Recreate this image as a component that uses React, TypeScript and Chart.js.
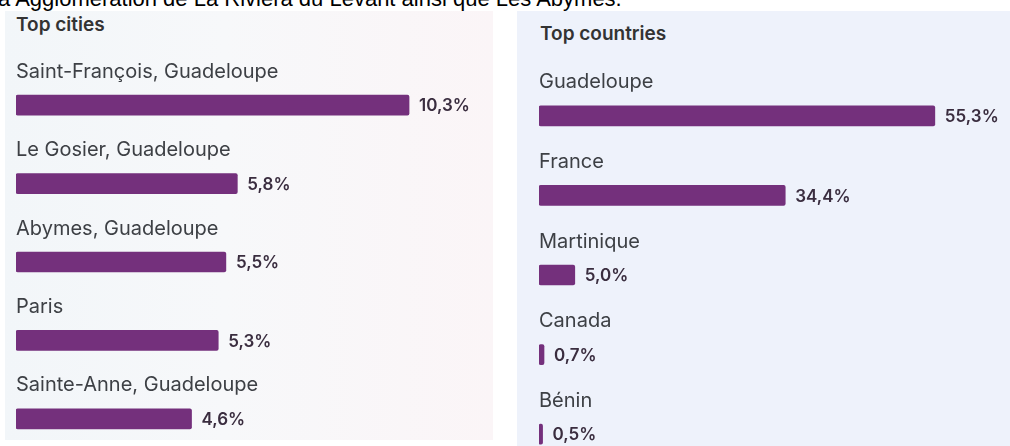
import React, { useEffect, useRef } from "react";
import { Chart, registerables } from "chart.js";

Chart.register(...registerables);

const cityLabels = [
  "Saint-François, Guadeloupe",
  "Le Gosier, Guadeloupe",
  "Abymes, Guadeloupe",
  "Paris",
  "Sainte-Anne, Guadeloupe",
];
const cityValues = [10.3, 5.8, 5.5, 5.3, 4.6];

const countryLabels = ["Guadeloupe", "France", "Martinique", "Canada", "Bénin"];
const countryValues = [55.3, 34.4, 5.0, 0.7, 0.5];

const BAR_COLOR = "#74307c";
const LABEL_FONT = "Inter";

const fmt = (v: number) => v.toFixed(1).replace(".", ",") + "%";

const rowLabelsPlugin = {
  id: "rowLabels",
  afterDatasetsDraw(chart: any) {
    const ctx = chart.ctx;
    const meta = chart.getDatasetMeta(0);
    const labels = chart.data.labels as string[];
    const values = chart.data.datasets[0].data as number[];
    const left = chart.chartArea.left;
    ctx.save();
    meta.data.forEach((bar: any, i: number) => {
      ctx.textBaseline = "middle";
      ctx.textAlign = "left";
      ctx.fillStyle = "#3d4045";
      ctx.font = `20px ${LABEL_FONT}`;
      ctx.fillText(labels[i], left, bar.y - 33.5);
      ctx.fillStyle = "#3a2d3f";
      ctx.font = `600 17px ${LABEL_FONT}`;
      ctx.fillText(fmt(values[i]), bar.x + 10, bar.y + 1);
    });
    ctx.restore();
  },
};

function BarPanel(props: {
  labels: string[];
  values: number[];
  max: number;
  left: number;
  width: number;
  height: number;
  padding: { left: number; right: number; top: number; bottom: number };
}) {
  const ref = useRef<HTMLCanvasElement | null>(null);
  useEffect(() => {
    if (!ref.current) return;
    const chart = new Chart(ref.current, {
      type: "bar",
      data: {
        labels: props.labels,
        datasets: [
          {
            data: props.values,
            backgroundColor: BAR_COLOR,
            borderRadius: 2,
            borderSkipped: false,
            barThickness: 20,
          },
        ],
      },
      options: {
        indexAxis: "y",
        animation: false,
        responsive: false,
        maintainAspectRatio: false,
        layout: { padding: props.padding },
        scales: {
          x: { display: false, min: 0, max: props.max },
          y: { display: false },
        },
        plugins: {
          legend: { display: false },
          tooltip: { enabled: false },
        },
      },
      plugins: [rowLabelsPlugin],
    } as any);
    return () => chart.destroy();
  }, []);
  return (
    <canvas
      ref={ref}
      width={props.width}
      height={props.height}
      style={{
        position: "absolute",
        left: props.left,
        top: 0,
        width: props.width,
        height: props.height,
      }}
    />
  );
}

export default function App() {
  return (
    <div
      style={{
        position: "fixed",
        left: 0,
        top: 0,
        width: 1010,
        height: 446,
        overflow: "hidden",
        background: "#ffffff",
      }}
    >
      <div
        style={{
          position: "absolute",
          left: -2,
          top: -12,
          fontFamily: "Liberation Sans",
          fontSize: 22,
          lineHeight: "22px",
          color: "#000",
          whiteSpace: "nowrap",
        }}
      >
        a Agglomération de La Riviera du Levant ainsi que Les Abymes.
      </div>
      <div
        style={{
          position: "absolute",
          left: 5,
          top: 11,
          width: 488,
          height: 429,
          background:
            "linear-gradient(90deg, #f2f6f9 0%, #f7f8fa 45%, #fbf5f7 100%)",
        }}
      />
      <div
        style={{
          position: "absolute",
          left: 517,
          top: 11,
          width: 493,
          height: 435,
          background: "#eef2fb",
        }}
      />
      <div
        style={{
          position: "absolute",
          left: 16,
          top: 15,
          fontFamily: LABEL_FONT,
          fontWeight: 600,
          fontSize: 19,
          lineHeight: "20px",
          color: "#333",
        }}
      >
        Top cities
      </div>
      <div
        style={{
          position: "absolute",
          left: 540,
          top: 24,
          fontFamily: LABEL_FONT,
          fontWeight: 600,
          fontSize: 19,
          lineHeight: "20px",
          color: "#333",
        }}
      >
        Top countries
      </div>
      <BarPanel
        labels={cityLabels}
        values={cityValues}
        max={12.5}
        left={0}
        width={500}
        height={470}
        padding={{ left: 16, right: 7, top: 66, bottom: 12 }}
      />
      <BarPanel
        labels={countryLabels}
        values={countryValues}
        max={65.8}
        left={500}
        width={510}
        height={490}
        padding={{ left: 39, right: 0, top: 76, bottom: 16 }}
      />
    </div>
  );
}
